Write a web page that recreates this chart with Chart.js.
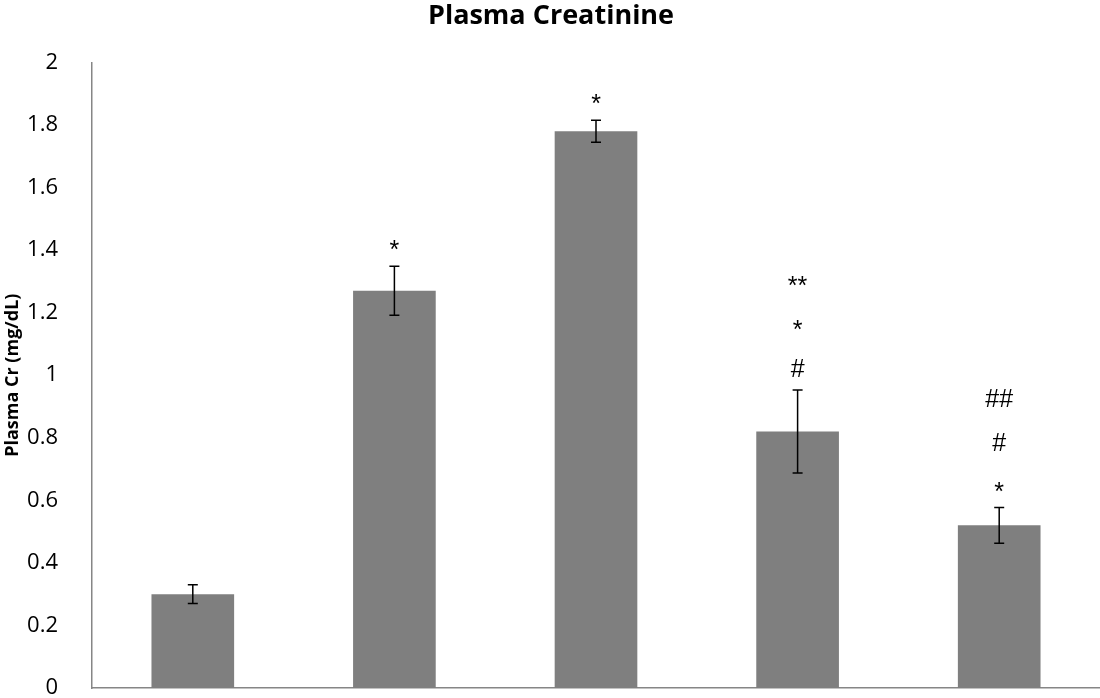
<!DOCTYPE html>
<html>
<head>
<meta charset="utf-8">
<script src="https://cdn.jsdelivr.net/npm/chart.js@4"></script>
<style>
  html, body { margin: 0; padding: 0; background: #fff; }
  #wrap { width: 1100px; height: 698px; }
</style>
</head>
<body>
<div id="wrap"><canvas id="myChart" width="1100" height="698"></canvas></div>
<script>
const groups = ["G1", "G2", "G3", "G4", "G5"];
const creatinine = [0.3, 1.27, 1.78, 0.82, 0.52];
const errors = [0.03, 0.078, 0.035, 0.133, 0.057];
// significance marks, listed from bottom to top
const marks = [[], ["*"], ["*"], ["#", "*", "**"], ["*", "#", "##"]];
const yTicks = [0, 0.2, 0.4, 0.6, 0.8, 1, 1.2, 1.4, 1.6, 1.8, 2];

const errorBars = {
  id: "errorBars",
  afterDatasetsDraw(chart) {
    const c = chart.ctx;
    const y = chart.scales.y;
    const meta = chart.getDatasetMeta(0);
    c.save();
    c.strokeStyle = "#000";
    c.lineWidth = 1.5;
    meta.data.forEach((bar, i) => {
      const top = y.getPixelForValue(creatinine[i] + errors[i]);
      const bot = y.getPixelForValue(creatinine[i] - errors[i]);
      c.beginPath();
      c.moveTo(bar.x, top); c.lineTo(bar.x, bot);
      c.moveTo(bar.x - 5, top); c.lineTo(bar.x + 5, top);
      c.moveTo(bar.x - 5, bot); c.lineTo(bar.x + 5, bot);
      c.stroke();
      // stacked significance marks above the error bar
      c.fillStyle = "#000";
      c.font = "25px 'Liberation Sans'";
      c.textAlign = "center";
      c.textBaseline = "alphabetic";
      marks[i].forEach((m, k) => {
        const mid = top - 22 - k * 44;
        c.fillText(m, bar.x, mid + (m.indexOf("*") >= 0 ? 14 : 9));
      });
    });
    c.restore();
  }
};

const ctx = document.getElementById("myChart").getContext("2d");
const myChart = new Chart(ctx, {
  type: "bar",
  data: {
    labels: groups,
    datasets: [
      {
        data: creatinine,
        backgroundColor: "#7f7f7f",
        borderWidth: 0,
        categoryPercentage: 1,
        barPercentage: 0.41,
      },
    ],
  },
  options: {
    responsive: false,
    animation: false,
    layout: { padding: { left: 2, right: 0, top: 0, bottom: 10 } },
    plugins: {
      legend: { display: false },
      tooltip: { enabled: false },
      title: {
        display: true,
        text: "Plasma Creatinine",
        color: "#000",
        font: { family: "'Open Sans'", size: 27, weight: "bold" },
        padding: { top: 0, bottom: 30 },
      },
    },
    scales: {
      x: {
        ticks: { display: false },
        grid: { display: false },
        border: { color: "#868686", width: 1.5 },
        afterFit: (axis) => {
          axis.height = 0;
          axis.paddingLeft = 0;
          axis.paddingRight = 0;
        },
      },
      y: {
        min: 0,
        max: 2,
        afterBuildTicks: (axis) => {
          axis.ticks = yTicks.map((v) => ({ value: v }));
        },
        afterFit: (axis) => {
          axis.width = 90;
          axis.paddingTop = 0;
          axis.paddingBottom = 0;
        },
        ticks: {
          color: "#000",
          padding: 26,
          font: { family: "'Open Sans'", size: 22 },
          callback: (v) => String(v),
        },
        grid: { display: false },
        border: { color: "#868686", width: 1.5 },
        title: {
          display: true,
          text: "Plasma Cr (mg/dL)",
          color: "#000",
          font: { family: "'Open Sans'", size: 18, weight: "bold" },
          padding: { top: 0, bottom: 0 },
        },
      },
    },
  },
  plugins: [errorBars],
});
</script>
</body>
</html>
